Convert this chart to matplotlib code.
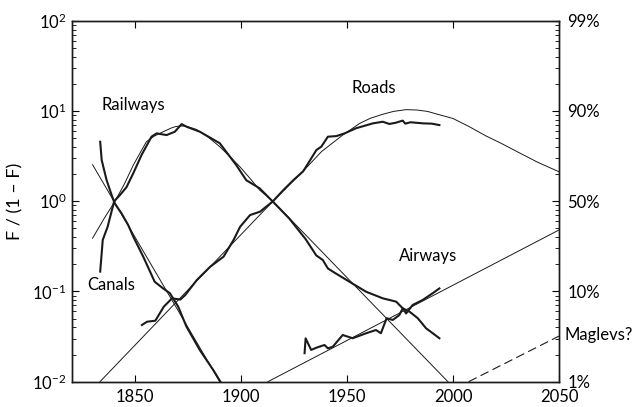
import numpy as np
import matplotlib
matplotlib.use("Agg")
import matplotlib.pyplot as plt
from matplotlib.ticker import FixedLocator, LogLocator, NullFormatter, FuncFormatter

plt.rcParams['font.family'] = ['Lato', 'DejaVu Sans']
plt.rcParams['mathtext.default'] = 'regular'

# ---- data: F/(1-F) values ----
canals_years = [1833.6, 1834.3, 1836.6, 1839.0, 1840.4, 1843.7, 1846.8, 1849.2, 1853.9,
                1859.3, 1863.3, 1866.5, 1870.4, 1874.3, 1880.6, 1886.9, 1890.3]
canals_vals = [4.56, 2.86, 1.72, 1.17, 0.95, 0.73, 0.545, 0.405, 0.243,
               0.128, 0.108, 0.0955, 0.0678, 0.0407, 0.0224, 0.0135, 0.0100]
canals_fit_years = [1830.0, 1890.0]
canals_fit_vals = [2.54, 0.01]

rail_years = [1833.6, 1834.8, 1837.1, 1840.2, 1842.9, 1846.0, 1849.2, 1853.1, 1857.8,
              1860.2, 1864.9, 1868.8, 1872.0, 1874.3, 1880.6, 1890.0, 1897.8, 1902.5,
              1908.8, 1915.1, 1922.7, 1930.5, 1935.5, 1938.6, 1941.0, 1943.3, 1951.2,
              1959.0, 1966.9, 1973.2, 1976.3, 1979.5, 1983.4, 1987.3, 1993.6]
rail_vals = [0.166, 0.372, 0.521, 1.0, 1.17, 1.43, 2.04, 3.25, 5.19,
             5.65, 5.41, 5.89, 7.16, 6.70, 5.89, 4.39, 2.51, 1.71,
             1.39, 0.986, 0.646, 0.38, 0.251, 0.223, 0.180, 0.166, 0.128,
             0.0993, 0.0839, 0.0771, 0.065, 0.0597, 0.0505, 0.0391, 0.0303]
rail_fit_years = [1830.0, 1835.5, 1840.6, 1845.0, 1849.2, 1855.4, 1859.0, 1863.3, 1867.0,
                  1869.0, 1871.1, 1873.0, 1875.0, 1878.9, 1884.0, 1890.0, 1895.0, 1899.5,
                  1904.0, 1908.8, 1915.1, 1997.6]
rail_fit_vals = [0.389, 0.646, 1.0, 1.55, 2.51, 4.57, 5.25, 5.89, 6.46,
                 6.7, 6.81, 6.8, 6.68, 6.25, 5.25, 4.02, 3.09, 2.41,
                 1.82, 1.33, 1.0, 0.01]

roads_years = [1853.3, 1855.7, 1859.6, 1863.6, 1867.5, 1871.4, 1873.7, 1879.2, 1885.5,
               1891.8, 1896.5, 1899.6, 1904.3, 1909.0, 1915.1, 1920.0, 1924.8, 1929.3,
               1931.7, 1935.6, 1937.9, 1941.0, 1945.0, 1948.9, 1954.2, 1962.2, 1966.9,
               1970.0, 1973.0, 1976.3, 1977.5, 1980.0, 1986.0, 1990.0, 1993.6]
roads_vals = [0.0425, 0.0462, 0.0474, 0.0678, 0.0839, 0.0813, 0.0912, 0.134, 0.188,
              0.243, 0.372, 0.521, 0.703, 0.766, 1.0, 1.33, 1.72, 2.14,
              2.63, 3.70, 4.02, 5.19, 5.27, 5.65, 6.43, 7.29, 7.60,
              7.18, 7.41, 7.82, 7.24, 7.5, 7.29, 7.24, 6.98]
roads_fit_years = [1833.5, 1915.1, 1930.0, 1938.0, 1948.0, 1956.0, 1961.0, 1966.9, 1972.0,
                   1977.9, 1983.0, 1988.0, 1993.3, 2000.0, 2007.7, 2015.5, 2023.0, 2031.2,
                   2040.0, 2050.0]
roads_fit_vals = [0.01, 1.0, 2.24, 3.55, 5.41, 7.29, 8.3, 9.2, 9.9,
                  10.35, 10.25, 9.89, 9.12, 8.26, 6.7, 5.3, 4.35, 3.45,
                  2.7, 2.12]

air_years = [1930.0, 1930.5, 1933.1, 1936.0, 1939.4, 1941.0, 1943.3, 1948.0, 1952.7,
             1959.0, 1963.7, 1966.0, 1968.7, 1971.6, 1974.7, 1976.3, 1977.9, 1981.0,
             1985.7, 1990.4, 1993.6]
air_vals = [0.0207, 0.0302, 0.0225, 0.024, 0.0255, 0.0234, 0.0244, 0.0329, 0.0303,
            0.0344, 0.0374, 0.0344, 0.0505, 0.0483, 0.0548, 0.065, 0.0571, 0.0708,
            0.0804, 0.0955, 0.108]
air_fit_years = [1912.7, 2050.0]
air_fit_vals = [0.01, 0.48]

maglev_years = [2007.4, 2050.0]
maglev_vals = [0.01, 0.032]

left_ticks = [1e-2, 1e-1, 1e0, 1e1, 1e2]
right_labels = ['1%', '10%', '50%', '90%', '99%']
x_ticks = [1850, 1900, 1950, 2000, 2050]

labels = {'Railways': (1834.0, 11.6), 'Roads': (1952.0, 17.9),
          'Canals': (1827.4, 0.118), 'Airways': (1974.7, 0.25)}

# ---- figure ----
fig = plt.figure(figsize=(6.4, 4.07), dpi=100)
ax = fig.add_axes([0.1125, 0.0622, 0.7609, 0.8868])

thick = dict(color='#1a1a1a', lw=1.5, solid_joinstyle='round')
thin = dict(color='#1a1a1a', lw=0.7)

ax.plot(canals_years, canals_vals, **thick)
ax.plot(canals_fit_years, canals_fit_vals, **thin)
ax.plot(rail_years, rail_vals, **thick)
ax.plot(rail_fit_years, rail_fit_vals, **thin)
ax.plot(roads_years, roads_vals, **thick)
ax.plot(roads_fit_years, roads_fit_vals, **thin)
ax.plot(air_years, air_vals, **thick)
ax.plot(air_fit_years, air_fit_vals, **thin)
ax.plot(maglev_years, maglev_vals, color='#1a1a1a', lw=0.8, dashes=(8, 4))

ax.set_yscale('log')
ax.set_xlim(1820.3, 2050)
ax.set_ylim(1e-2, 1e2)

ax.set_xticks(x_ticks)
ax.set_xticklabels([str(v) for v in x_ticks])
ax.yaxis.set_major_locator(FixedLocator(left_ticks))
ax.yaxis.set_major_formatter(FuncFormatter(lambda v, p: f"10$^{{{int(round(np.log10(v)))}}}$"))
ax.yaxis.set_minor_locator(LogLocator(base=10, subs=np.arange(2, 10)))
ax.yaxis.set_minor_formatter(NullFormatter())

ax.tick_params(axis='x', which='major', direction='in', length=5, width=0.8,
               top=True, labelsize=12, pad=5)
ax.tick_params(axis='y', which='major', direction='in', length=5, width=0.8,
               labelsize=12, pad=4)
ax.tick_params(axis='y', which='minor', direction='in', length=3, width=0.6)

ax2 = ax.twinx()
ax2.set_yscale('log')
ax2.set_ylim(1e-2, 1e2)
ax2.yaxis.set_major_locator(FixedLocator(left_ticks))
ax2.set_yticklabels(right_labels)
ax2.yaxis.set_minor_locator(LogLocator(base=10, subs=np.arange(2, 10)))
ax2.yaxis.set_minor_formatter(NullFormatter())
ax2.tick_params(axis='y', which='major', direction='in', length=5, width=0.8,
                labelsize=12, pad=6)
ax2.tick_params(axis='y', which='minor', direction='in', length=3, width=0.6)

for a in (ax, ax2):
    for s in a.spines.values():
        s.set_linewidth(1.0)
        s.set_color('#1a1a1a')

ax.set_ylabel('F / (1 – F)', fontsize=13, labelpad=6)

for name, (xx, yy) in labels.items():
    ax.text(xx, yy, name, fontsize=12, ha='left', va='center')
ax2.text(1.012, 0.0327, 'Maglevs?', transform=ax2.get_yaxis_transform(),
         fontsize=12, ha='left', va='center')

fig.savefig('out.png', dpi=100)
